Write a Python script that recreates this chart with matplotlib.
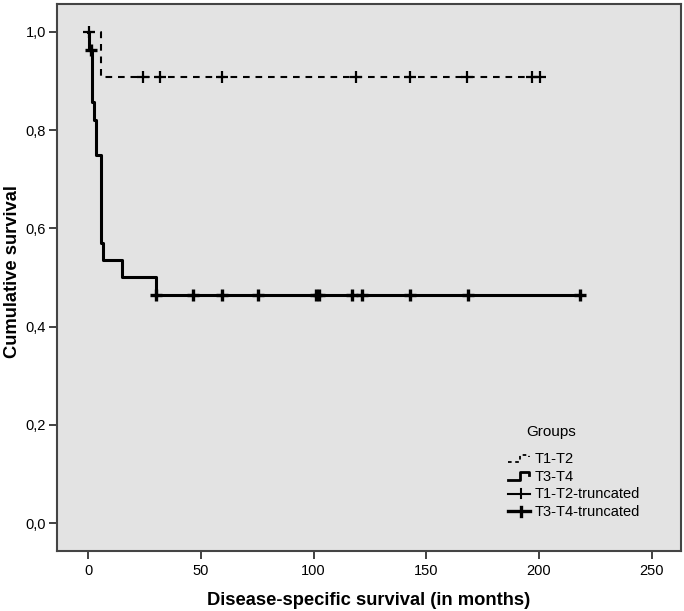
import matplotlib
matplotlib.use("Agg")
import matplotlib.pyplot as plt
from matplotlib.legend_handler import HandlerBase
from matplotlib.lines import Line2D
from matplotlib.ticker import FuncFormatter

plt.rcParams["font.family"] = ["Liberation Sans", "DejaVu Sans"]

# Kaplan-Meier steps (months, survival)
t12_times = [0, 5.8, 200.5]
t12_surv = [1.0, 0.909, 0.909]
t34_times = [0, 0.5, 1.6, 2.6, 3.5, 5.6, 6.5, 15, 30, 218.3]
t34_surv = [1.0, 0.964, 0.857, 0.821, 0.75, 0.571, 0.536, 0.5, 0.464, 0.464]

# censored cases
t12_cens_t = [0.5, 24.5, 32, 59.5, 119, 143, 168, 197, 200.5]
t12_cens_s = [1.0, 0.909, 0.909, 0.909, 0.909, 0.909, 0.909, 0.909, 0.909]
t34_cens_t = [1.2, 30, 46.6, 59.6, 75.4, 101.1, 102.3, 116.9, 121.7, 142.8, 168.4, 218.3]
t34_cens_s = [0.964] + [0.464] * 11

x_ticks = [0, 50, 100, 150, 200, 250]
y_ticks = [0.0, 0.2, 0.4, 0.6, 0.8, 1.0]
group_names = ["T1-T2", "T3-T4", "T1-T2-truncated", "T3-T4-truncated"]


class StepHandler(HandlerBase):
    # little step glyph like the SPSS legend
    def __init__(self, ls, lw):
        super().__init__()
        self.ls = ls
        self.lw = lw

    def create_artists(self, legend, orig_handle, xdescent, ydescent,
                       width, height, fontsize, trans):
        xs = [0, width * 0.55, width * 0.55, width * 0.95, width * 0.95]
        ys = [height * 0.1, height * 0.1, height * 0.8, height * 0.8, height * 0.6]
        ln = Line2D(xs, ys, color="black", ls=self.ls, lw=self.lw, transform=trans)
        return [ln]


class CensorHandler(HandlerBase):
    # horizontal bar with a tick, as SPSS draws the censor key
    def __init__(self, lw):
        super().__init__()
        self.lw = lw

    def create_artists(self, legend, orig_handle, xdescent, ydescent,
                       width, height, fontsize, trans):
        y = height * 0.45
        bar = Line2D([0, width], [y, y], color="black", lw=self.lw, transform=trans)
        tick = Line2D([width * 0.6, width * 0.6], [y - height * 0.45, y + height * 0.45],
                      color="black", lw=self.lw, transform=trans)
        return [bar, tick]


fig = plt.figure(figsize=(6.84, 6.11), dpi=100)
ax = fig.add_axes([0.0833, 0.0982, 0.9123, 0.8953])
ax.set_facecolor("#e3e3e3")

l12, = ax.step(t12_times, t12_surv, where="post", color="black", lw=1.5, ls=(0, (3.2, 2.8)))
l34, = ax.step(t34_times, t34_surv, where="post", color="black", lw=2.2)
c12, = ax.plot(t12_cens_t, t12_cens_s, ls="none", marker="+", ms=9, mew=1.6, color="black")
c34, = ax.plot(t34_cens_t, t34_cens_s, ls="none", marker="+", ms=9, mew=2.4, color="black")

ax.set_xlim(-13.8, 263)
ax.set_ylim(-0.057, 1.057)
ax.set_xticks(x_ticks)
ax.set_yticks(y_ticks)
ax.yaxis.set_major_formatter(FuncFormatter(lambda v, p: f"{v:.1f}".replace(".", ",")))
ax.tick_params(direction="out", length=6, width=1.3, color="#333333", labelsize=10.5)
ax.tick_params(axis="y", pad=2)
for sp in ax.spines.values():
    sp.set_color("#444444")
    sp.set_linewidth(1.5)

ax.set_xlabel("Disease-specific survival (in months)", fontsize=13.2, fontweight="bold", labelpad=10)
fig.text(13 / 684, 0.555, "Cumulative survival", rotation=90, ha="center", va="center",
         fontsize=13.2, fontweight="bold")

leg = ax.legend([l12, l34, c12, c34], group_names,
                handler_map={l12: StepHandler((0, (2, 2)), 1.3), l34: StepHandler("-", 2.0),
                             c12: CensorHandler(1.5), c34: CensorHandler(2.4)},
                loc="upper left", bbox_to_anchor=(0.723, 0.181), borderpad=0, borderaxespad=0,
                frameon=False, fontsize=10.5,
                handlelength=1.5, handletextpad=0.3, labelspacing=0.25)
ax.text(0.792, 0.2175, "Groups", transform=ax.transAxes, ha="center", va="center", fontsize=11)

fig.savefig("out.png", dpi=100)
